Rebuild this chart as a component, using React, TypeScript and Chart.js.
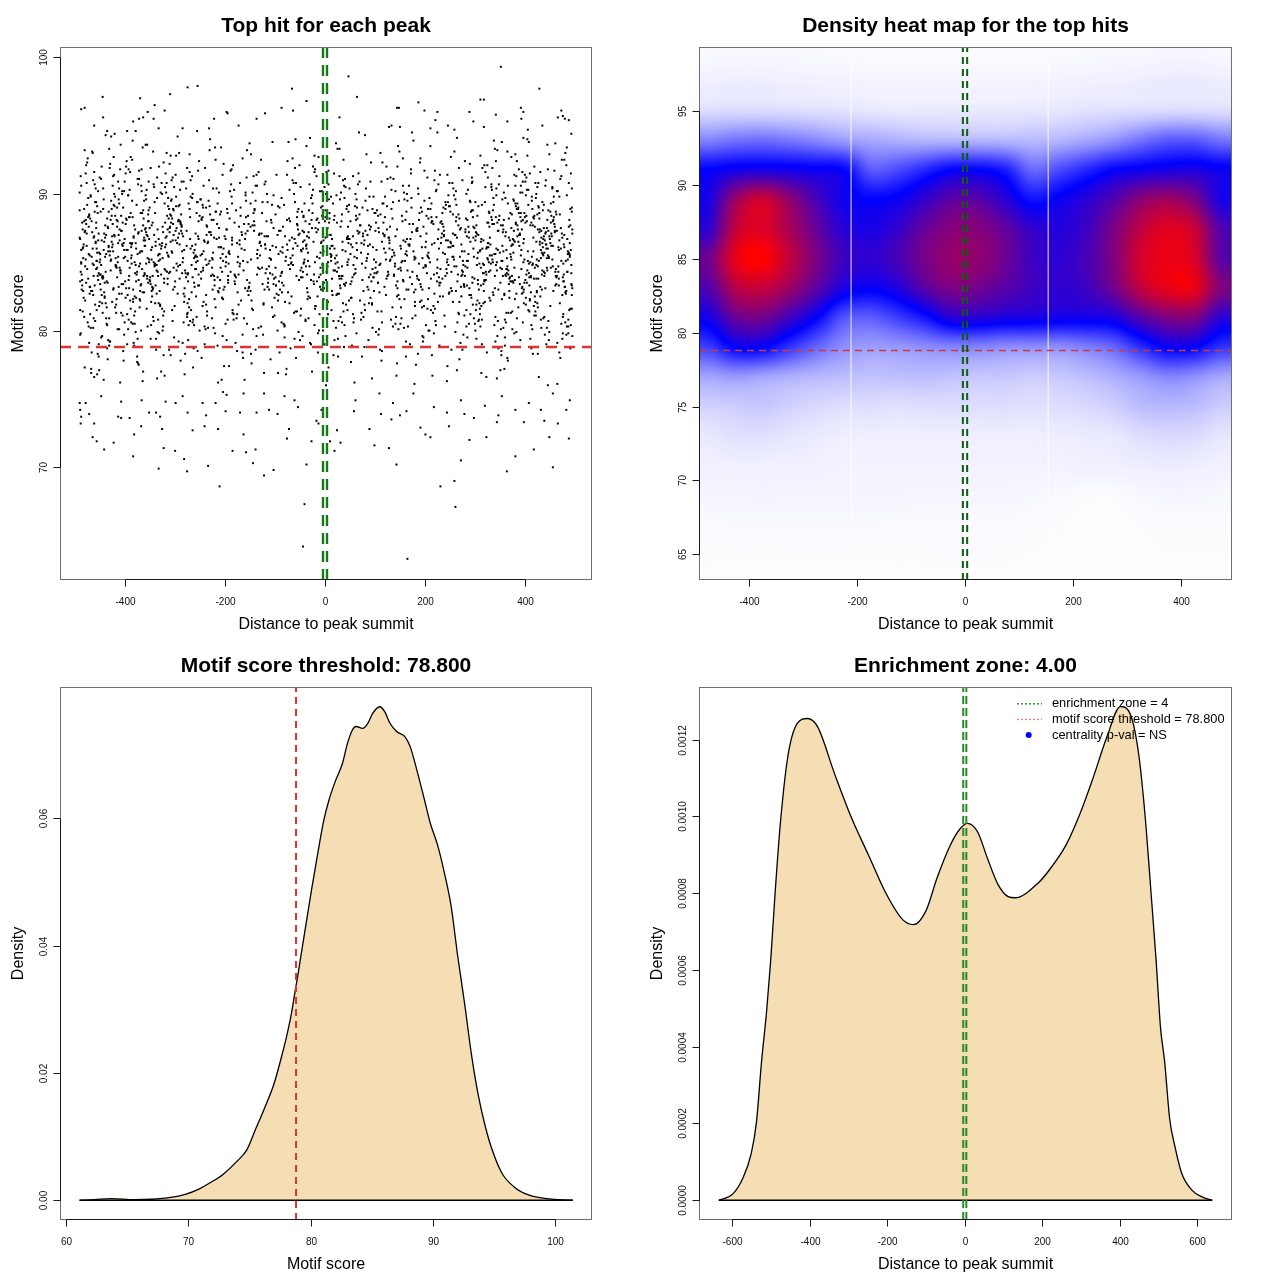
import React, { useEffect, useRef } from "react";
import { Chart, registerables } from "chart.js";

Chart.register(...registerables);

const FONT = '"Liberation Sans", Arial, Helvetica, sans-serif';

// ---------------- shared values ----------------
const scoreThreshold = 78.8;
const enrichmentZone = 4;

// ---------------- panel 1: top hit for each peak ----------------
// isolated hits in the upper and lower tails (distance, score)
const tailDistance = [
  352, 47, -275, -255, -66, 429, -445, -310, -370, 64, 311, 318, -37, 187, -481, -488, -341, 144, 148,
  -87, -64, 199, 392, 397, 473, -321, -197, -195, -355, -120, 225, 289, 342, 466, 476, 480, -444, -384,
  -372, -364, -343, -222, -137, 29, 393, -436, 128, 174, 221, 246, 297, 318, 365, 435, 488, -462, -379,
  -333, -285, -232, -173, 133, 150, 259,
  -491, -490, -488, -489, -472, -462, -465, -457, -442, -423, -414, -408, -391, -384, -382, -368, -352,
  -338, -333, -330, -326, -323, -300, -299, -282, -276, -275, -265, -241, -238, -234, -219, -214, -211,
  -199, -197, -185, -170, -163, -158, -144, -139, -137, -122, -112, -103, -95, -76, -72, -61, -41, -44,
  -37, -17, -7, 10, 19, 24, 31, 58, 89, 99, 112, 128, 133, 143, 150, 163, 165, 191, 201, 211, 231, 244,
  248, 259, 261, 272, 279, 289, 298, 323, 344, 347, 364, 381, 398, 418, 439, 449, 456, 466, 488, 490,
  483, 432, 381, 320, 272, 218, 177, 136, 109, 61, -13, -27, -54, -81, -122, -163, -204, -245, -285,
  -319, -367, -408, -448, -479, 354, 408, 456,
];
const tailScore = [
  99.3, 98.6, 97.8, 97.9, 97.7, 97.7, 97.1, 97.3, 97.0, 97.1, 96.9, 96.9, 96.8, 96.7, 96.3, 96.2, 96.5, 96.3, 96.3,
  96.3, 96.1, 96.1, 96.3, 96.0, 96.1, 96.1, 96.0, 95.9, 96.0, 95.9, 96.0, 96.0, 95.8, 95.6, 95.7, 95.5, 95.6, 95.3,
  95.5, 95.6, 95.5, 95.5, 95.5, 95.6, 95.5, 94.6, 94.9, 94.5, 95.4, 95.0, 95.3, 94.9, 95.3, 95.0, 95.4, 95.0, 94.6,
  94.8, 94.8, 94.8, 95.0, 95.0, 94.9, 94.7,
  74.7, 74.2, 73.7, 73.2, 73.9, 73.2, 72.2, 71.9, 71.3, 71.8, 73.7, 73.6, 73.6, 70.8, 72.4, 73.0, 74.0,
  74.0, 69.9, 73.7, 72.8, 71.4, 71.2, 74.7, 70.6, 69.7, 74.0, 72.7, 73.0, 73.8, 70.1, 74.7, 72.8, 68.6,
  74.1, 75.3, 71.2, 74.0, 72.4, 71.1, 70.3, 71.3, 74.0, 69.4, 74.2, 69.8, 73.9, 72.1, 72.8, 74.9, 67.3, 64.2,
  70.2, 73.4, 74.2, 71.9, 71.2, 72.7, 71.8, 74.1, 72.8, 71.6, 73.9, 71.4, 73.5, 70.2, 73.8, 74.1, 63.3, 72.9, 72.4, 72.2, 68.6, 74.0,
  73.0, 69.0, 67.1, 70.5, 73.9, 72.0, 73.6, 72.2, 73.3, 73.8, 69.7, 70.8, 73.3, 71.3, 73.4, 72.2, 70.0, 73.2, 72.1, 74.9,
  74.2, 74.2, 74.2, 74.5, 74.9, 74.4, 75.4, 74.7, 75.4, 74.9, 73.2, 71.9, 74.4, 75.2, 75.4, 75.4, 75.5, 74.7, 75.2,
  74.8, 74.9, 74.8, 75.2, 74.7, 75.2, 74.7, 75.4,
];
// the dense core of hits, first set
const coreDistance = [
  -489, -472, -455, -483, -461, -477, -490, -466, -452, -486, -470, -458, -481, -463, -475, -488, -451, -468, -479, -457, -485, -460, -473, -491, -454, -467, -482, -459, -476, -487, -464, -453, -480, -469, -456, -484, -462, -478, -490, -465, -471, -474, -488,
  -448, -431, -417, -440, -405, -426, -444, -412, -435, -402, -421, -446, -409, -429, -438, -415, -403, -443, -424, -411, -436, -419, -447, -407, -432, -414, -441, -401, -427, -420, -445, -410, -433, -404, -423, -439, -416, -428, -406, -442, -413, -434, -418, -449, -408, -425, -437, -422, -430, -412,
  -398, -376, -361, -389, -352, -371, -394, -357, -383, -366, -351, -392, -374, -359, -387, -368, -395, -354, -379, -363, -390, -372, -356, -385, -399, -365, -381, -353, -377, -393, -360, -386, -369, -358, -396, -375, -362, -384, -355, -391, -370, -380, -364, -397, -373, -388, -367, -350, -382, -378,
  -348, -327, -312, -339, -303, -321, -344, -308, -333, -317, -301, -342, -324, -310, -336, -319, -346, -305, -330, -314, -341, -322, -307, -335, -349, -316, -331, -304, -328, -343, -311, -337, -320, -309, -345, -326, -313, -334, -306, -340, -318, -332, -302, -347, -325, -315,
  -298, -276, -261, -289, -253, -271, -294, -257, -283, -266, -251, -292, -274, -259, -287, -268, -296, -255, -279, -263, -290, -272, -256, -285, -299, -265, -281, -254, -277, -293, -260, -286, -269, -258, -297, -275, -262, -284, -252, -291, -270,
  -247, -226, -212, -238, -203, -221, -244, -207, -233, -216, -201, -241, -224, -209, -236, -218, -246, -205, -229, -213, -240, -222, -206, -234, -249, -215, -231, -204, -227, -243, -210, -237, -219, -208, -245, -225,
  -197, -176, -161, -188, -153, -171, -194, -157, -183, -166, -151, -192, -174, -159, -186, -168, -196, -155, -179, -163, -190, -172, -156, -185, -199, -165, -181, -154, -177, -193, -160, -186,
  -148, -127, -112, -139, -103, -121, -144, -108, -133, -117, -101, -142, -124, -110, -136, -119, -146, -105, -130, -114, -141, -122, -107, -135, -149, -116, -131, -104, -128, -143,
  -98, -76, -61, -89, -53, -71, -94, -57, -83, -66, -51, -92, -74, -59, -87, -68, -96, -55, -79, -63, -90, -72, -56, -85, -99, -65, -81, -54, -77, -93, -60, -86,
  -48, -27, -12, -39, -3, -21, -44, -8, -33, -17, -1, -42, -24, -10, -36, -19, -46, -5, -30, -14, -41, -22, -7, -35, -49, -16, -31, -4, -28, -43, -11, -37, -20, -9, -45, -26, -2, -34,
  2, 23, 38, 11, 47, 29, 6, 43, 17, 34, 49, 8, 26, 41, 14, 32, 4, 45, 21, 37, 10, 28, 44, 15, 1, 35, 19, 46, 23, 7, 40, 13, 31, 48, 5, 25, 39, 12, 33,
  52, 73, 88, 61, 97, 79, 56, 93, 67, 84, 99, 58, 76, 91, 64, 82, 54, 95, 71, 87, 60, 78, 94, 65, 51, 85, 69, 96, 73, 57, 90, 63, 81, 98,
  102, 123, 138, 111, 147, 129, 106, 143, 117, 134, 149, 108, 126, 141, 114, 132, 104, 145, 121, 137, 110, 128, 144, 115, 101, 135, 119, 146, 123, 107, 140, 113,
  152, 173, 188, 161, 197, 179, 156, 193, 167, 184, 199, 158, 176, 191, 164, 182, 154, 195, 171, 187, 160, 178, 194, 165, 151, 185, 169, 196, 173, 157, 190, 163, 181,
  202, 223, 238, 211, 247, 229, 206, 243, 217, 234, 249, 208, 226, 241, 214, 232, 204, 245, 221, 237, 210, 228, 244, 215, 201, 235, 219, 246, 223, 207, 240, 213, 231, 248, 205, 225,
  252, 273, 288, 261, 297, 279, 256, 293, 267, 284, 299, 258, 276, 291, 264, 282, 254, 295, 271, 287, 260, 278, 294, 265, 251, 285, 269, 296, 273, 257, 290, 263, 281, 298, 255, 275, 289, 262, 283,
  302, 323, 338, 311, 347, 329, 306, 343, 317, 334, 349, 308, 326, 341, 314, 332, 304, 345, 321, 337, 310, 328, 344, 315, 301, 335, 319, 346, 323, 307, 340, 313, 331, 348, 305, 325, 339, 312, 333, 303, 327, 342, 318, 336,
  352, 373, 388, 361, 397, 379, 356, 393, 367, 384, 399, 358, 376, 391, 364, 382, 354, 395, 371, 387, 360, 378, 394, 365, 351, 385, 369, 396, 373, 357, 390, 363, 381, 398, 355, 375, 389, 362, 383, 353, 377, 392, 368, 386, 359, 374, 397, 366, 380,
  402, 423, 438, 411, 447, 429, 406, 443, 417, 434, 449, 408, 426, 441, 414, 432, 404, 445, 421, 437, 410, 428, 444, 415, 401, 435, 419, 446, 423, 407, 440, 413, 431, 448, 405, 425, 439, 412, 433, 403, 427, 442, 418, 436, 409, 424, 446, 416, 430, 420, 438,
  452, 473, 488, 461, 494, 479, 456, 491, 467, 484, 495, 458, 476, 490, 464, 482, 454, 493, 471, 487, 460, 478, 492, 465, 451, 485, 469, 494, 473, 457, 489, 463, 481, 495, 455, 475, 486, 462, 483, 453, 477, 491, 468,
];
const coreScore = [
  84.3, 79.1, 88.6, 82.4, 90.7, 86.2, 81.5, 93.1, 85.7, 87.9, 83.2, 89.4, 77.3, 86.8, 80.6, 84.9, 91.2, 82.9, 88.1, 85.1,
  87.4, 81.9, 85.6, 90.1, 83.7, 78.4, 88.9, 86.5, 92.3, 84.1, 80.2, 87.1, 82.2, 89.8, 76.8, 85.3, 91.6, 83.5, 79.7, 86.0,
  82.7, 88.3, 85.0, 79.5, 91.9, 84.6, 87.7, 81.1, 86.9, 83.9, 90.4, 77.9, 85.9, 89.1, 82.0, 93.6, 84.4, 80.9, 88.0, 86.4,
  89.6, 83.0, 86.6, 80.4, 84.8, 92.0, 87.3, 78.9, 85.4, 82.5, 90.9, 88.4, 81.7, 84.0, 76.2, 86.1, 83.4, 89.2, 94.3, 87.6,
  85.2, 90.2, 82.8, 87.0, 79.3, 84.7, 88.7, 81.3, 86.3, 83.6, 91.4, 85.8, 80.1, 88.2, 78.1, 84.2, 92.7, 86.7, 82.3, 89.9,
  81.6, 86.8, 84.5, 89.0, 83.1, 77.6, 87.5, 85.5, 90.6, 82.6, 88.5, 79.9, 84.0, 86.4, 91.1, 83.8, 80.5, 87.8, 93.4, 85.0,
  88.8, 84.1, 80.8, 86.2, 92.5, 83.3, 87.2, 79.0, 85.6, 89.5, 82.1, 86.9, 90.3, 84.9, 81.4, 77.0, 88.1, 83.7, 85.3, 91.8,
  83.9, 87.7, 82.4, 85.9, 90.8, 78.6, 86.5, 84.6, 89.3, 81.0, 88.4, 85.1, 93.0, 83.2, 87.0, 80.3, 84.3, 76.5, 91.5, 86.1,
  86.6, 81.8, 89.7, 84.8, 83.5, 91.0, 87.4, 79.4, 85.7, 82.9, 88.9, 86.0, 80.7, 92.2, 84.4, 87.9, 78.2, 83.0, 90.0, 85.4,
  84.0, 88.2, 82.0, 86.3, 79.8, 90.5, 85.2, 87.6, 83.4, 89.1, 81.2, 85.9, 77.8, 86.7, 92.9, 84.7, 88.6, 82.7, 91.3, 80.0,
  87.1, 83.6, 85.5, 90.9, 81.5, 86.4, 89.4, 84.2, 78.7, 88.0, 82.3, 94.6, 85.0, 87.3, 80.6, 83.1, 91.7, 86.2, 79.2, 84.5,
  85.8, 89.8, 82.5, 87.5, 84.1, 80.4, 86.9, 92.4, 83.8, 88.3, 78.0, 85.3, 90.1, 81.9, 86.0, 83.3, 89.0, 76.4, 84.9, 87.8,
  83.2, 86.5, 90.4, 84.6, 81.1, 88.7, 85.6, 79.6, 87.2, 82.8, 91.9, 86.8, 84.3, 80.2, 89.6, 83.9, 93.2, 85.1, 88.1, 82.1,
  88.5, 84.8, 81.7, 86.1, 89.2, 83.0, 87.4, 78.5, 85.9, 90.7, 82.6, 86.6, 84.0, 91.2, 80.8, 87.0, 83.5, 77.4, 85.4, 89.9,
  86.3, 82.2, 88.9, 85.0, 79.1, 84.4, 90.2, 87.6, 83.7, 81.3, 86.7, 92.6, 84.1, 88.4, 80.9, 85.7, 83.1, 89.3, 78.3, 87.1,
  84.7, 89.5, 83.4, 86.9, 80.1, 85.2, 91.6, 88.0, 82.4, 87.3, 79.7, 84.2, 90.6, 86.0, 81.6, 93.8, 85.5, 83.8, 88.8, 76.9,
  87.9, 85.3, 82.9, 90.0, 84.5, 81.0, 86.2, 88.6, 83.3, 91.4, 79.4, 85.8, 87.0, 82.0, 89.1, 84.0, 80.5, 86.8, 92.1, 83.6,
  82.8, 86.4, 89.7, 84.9, 78.8, 87.7, 85.1, 90.8, 83.0, 88.2, 81.4, 86.1, 84.6, 91.0, 80.3, 87.4, 77.2, 85.6, 89.4, 83.5,
  85.9, 88.1, 83.9, 80.7, 86.6, 92.8, 84.3, 89.0, 82.5, 87.2, 79.0, 85.0, 90.3, 83.2, 86.9, 81.8, 88.7, 84.8, 94.1, 78.4,
  89.3, 84.1, 86.5, 82.3, 90.5, 85.4, 87.8, 80.0, 83.7, 88.4, 81.2, 86.3, 91.8, 84.6, 79.6, 87.5, 83.1, 85.7, 76.0, 89.9,
  83.4, 87.0, 85.2, 91.3, 82.1, 88.9, 84.4, 80.6, 86.7, 89.6, 78.1, 85.8, 83.8, 90.1, 87.3, 81.5, 84.9, 92.5, 86.0, 82.7,
  86.8, 82.6, 88.3, 84.0, 79.3, 87.6, 85.5, 90.7, 83.3, 86.2, 81.0, 89.2, 84.7, 93.3, 80.4, 85.1, 88.0, 77.7, 86.4, 83.9,
  84.2, 89.8, 81.9, 86.9, 83.6, 91.5, 85.3, 88.6, 80.9, 87.1, 82.4, 85.9, 90.4, 78.9, 84.5, 87.7, 83.0, 89.1, 86.3, 82.0,
  88.2, 85.6, 83.2, 90.9, 86.1, 81.3, 84.8, 87.4, 79.8, 89.5, 82.9, 85.0, 92.0, 84.1, 88.5, 80.1, 86.6, 83.5, 76.7, 87.9,
  85.4, 82.3, 87.2, 84.3, 90.2, 86.5, 80.8, 88.8, 83.1, 85.7, 91.1, 78.6, 86.8, 82.5, 89.3, 84.6, 81.7, 87.0, 93.5, 83.8,
  87.5, 84.9, 81.4, 86.0, 89.7, 83.7, 88.1, 79.5, 85.2, 90.6, 82.2, 86.3, 84.0, 91.7, 80.2, 87.8, 83.4, 85.5, 77.5, 88.4,
  83.0, 86.7, 90.0, 85.1, 82.8, 88.7, 84.4, 80.5, 87.3, 86.2, 79.2, 89.0, 83.6, 92.3, 85.8, 81.1, 84.7, 88.3, 86.9, 94.8,
  86.1, 83.3, 88.9, 84.5, 81.8, 87.1, 90.8, 85.3, 82.1, 89.4, 78.2, 86.4, 84.2, 91.4, 80.7, 87.6, 85.0, 83.9, 76.3, 88.0,
  84.8, 88.6, 82.7, 86.6, 90.3, 85.7, 80.3, 87.9, 83.5, 89.1, 81.6, 85.2, 92.7, 84.0, 87.2, 79.9, 86.0, 83.2, 88.5, 82.4,
  87.7, 85.1, 83.8, 89.9, 84.3, 81.2, 86.8, 88.2, 82.9, 90.9, 79.1, 85.6, 87.0, 83.4, 91.2, 80.6, 86.5, 84.6, 77.9, 88.8,
  82.5, 86.2, 89.5, 84.7, 87.4, 80.9, 85.4, 91.0, 83.1, 88.0, 81.5, 86.9, 84.1, 93.9, 85.9, 78.7, 87.6, 83.7, 90.4, 82.0,
  85.5, 88.4, 83.0, 86.4, 81.0, 89.2, 84.9, 87.1, 79.6, 90.5, 82.6, 85.8, 88.7, 84.4, 86.0, 80.0, 91.9, 83.6, 87.3, 76.6,
  89.1, 84.0, 86.7, 82.2, 90.7, 85.3, 87.9, 80.4, 83.3, 88.3, 81.9, 86.1, 92.4, 84.8, 85.0, 78.8, 87.5, 83.9, 89.7, 82.8,
  84.6, 87.2, 85.9, 81.3, 88.9, 83.5, 90.1, 86.3, 79.3, 84.2, 87.8, 82.3, 91.6, 85.6, 89.0, 80.8, 86.6, 83.1, 93.1, 77.1,
  86.9, 83.8, 88.1, 85.2, 80.2, 87.0, 84.5, 90.6, 82.0, 89.6, 81.4, 86.2, 84.0, 91.3, 78.5, 85.7, 88.6, 83.4, 87.4, 82.6,
  83.6, 85.0, 89.3, 86.5, 82.4, 90.0, 84.3, 87.7, 80.7, 88.2, 85.8, 79.0, 86.8, 83.0, 92.9, 84.9, 81.7, 87.1, 89.8, 85.3,
  88.0, 84.4, 82.1, 86.7, 91.5, 85.1, 87.5, 80.1, 83.7, 89.4, 81.1, 86.0, 84.8, 90.3, 79.7, 87.9, 83.2, 85.4, 94.0, 88.5,
  85.7, 82.8, 87.3, 84.1, 90.8, 86.3, 81.8, 88.8, 83.9, 85.2, 91.8, 78.3, 86.5, 82.5, 89.2, 84.6, 80.5, 87.6, 93.7, 83.3,
  87.0, 84.7, 81.6, 86.1, 89.9, 83.1, 88.3, 79.8, 85.5, 90.2, 82.7, 86.9, 84.2, 91.1, 80.3, 87.2, 83.6, 85.9, 76.1, 88.7,
  84.3, 86.6, 89.0, 85.1, 82.9, 88.1, 83.4, 80.6, 87.4, 90.5, 79.4, 85.8, 84.0, 92.1, 86.2, 81.2, 88.9, 83.8, 87.8, 82.2,
];
// the dense core of hits, second set
const coreDistanceB = [
  -488, -451, -472, -460, -483, -464, -453, -478, -455, -490, -469, -457, -475, -485, -462, -480, -452, -467, -487, -459, -474, -466, -482, -456, -471, -489, -463, -477, -454, -484, -461, -468, -450, -479, -486, -458, -473, -465, -481, -457, -470, -476, -491,
  -447, -406, -431, -419, -442, -423, -410, -437, -414, -449, -428, -403, -434, -417, -444, -421, -408, -439, -426, -412, -448, -432, -405, -441, -415, -425, -436, -401, -420, -445, -409, -430, -438, -413, -422, -443, -404, -433, -416, -424, -440, -407, -429, -446, -411, -435, -418, -402, -427, -450,
  -397, -356, -381, -369, -392, -373, -360, -387, -364, -399, -378, -353, -384, -367, -394, -371, -358, -389, -376, -362, -398, -382, -355, -391, -365, -375, -386, -351, -370, -395, -359, -380, -388, -363, -372, -393, -354, -383, -366, -374, -390, -357, -379, -396, -361, -385, -368, -352, -377, -400,
  -347, -306, -331, -319, -342, -323, -310, -337, -314, -349, -328, -303, -334, -317, -344, -321, -308, -339, -326, -312, -348, -332, -305, -341, -315, -325, -336, -301, -320, -345, -309, -330, -338, -313, -322, -343, -304, -333, -316, -324, -340, -307, -329, -346, -311, -335,
  -297, -256, -281, -269, -292, -273, -260, -287, -264, -299, -278, -253, -284, -267, -294, -271, -258, -289, -276, -262, -298, -282, -255, -291, -265, -275, -286, -251, -270, -295, -259, -280, -288, -263, -272, -293, -254, -283, -266, -274, -290,
  -247, -206, -231, -219, -242, -223, -210, -237, -214, -249, -228, -203, -234, -217, -244, -221, -208, -239, -226, -212, -248, -232, -205, -241, -215, -225, -236, -201, -220, -245, -209, -230, -238, -213, -222, -243,
  -197, -156, -181, -169, -192, -173, -160, -187, -164, -199, -178, -153, -184, -167, -194, -171, -158, -189, -176, -162, -198, -182, -155, -191, -165, -175, -186, -151, -170, -195, -159, -180,
  -147, -106, -131, -119, -142, -123, -110, -137, -114, -149, -128, -103, -134, -117, -144, -121, -108, -139, -126, -112, -148, -132, -105, -141, -115, -125, -136, -101, -120, -145,
  -97, -56, -81, -69, -92, -73, -60, -87, -64, -99, -78, -53, -84, -67, -94, -71, -58, -89, -76, -62, -98, -82, -55, -91, -65, -75, -86, -51, -70, -95, -59, -80,
  -47, -6, -31, -19, -42, -23, -10, -37, -14, -49, -28, -3, -34, -17, -44, -21, -8, -39, -26, -12, -48, -32, -5, -41, -15, -25, -36, -1, -20, -45, -9, -30, -38, -13, -22, -43, -4, -33,
  3, 44, 19, 31, 8, 27, 40, 13, 36, 1, 22, 47, 16, 33, 6, 29, 42, 11, 24, 38, 2, 18, 45, 9, 35, 25, 14, 49, 30, 5, 41, 20, 12, 37, 28, 7, 46, 17, 34,
  53, 94, 69, 81, 58, 77, 90, 63, 86, 51, 72, 97, 66, 83, 56, 79, 92, 61, 74, 88, 52, 68, 95, 59, 85, 75, 64, 99, 80, 55, 91, 70, 62, 87,
  103, 144, 119, 131, 108, 127, 140, 113, 136, 101, 122, 147, 116, 133, 106, 129, 142, 111, 124, 138, 102, 118, 145, 109, 135, 125, 114, 149, 130, 105, 141, 120,
  153, 194, 169, 181, 158, 177, 190, 163, 186, 151, 172, 197, 166, 183, 156, 179, 192, 161, 174, 188, 152, 168, 195, 159, 185, 175, 164, 199, 180, 155, 191, 170, 162,
  203, 244, 219, 231, 208, 227, 240, 213, 236, 201, 222, 247, 216, 233, 206, 229, 242, 211, 224, 238, 202, 218, 245, 209, 235, 225, 214, 249, 230, 205, 241, 220, 212, 237, 228, 207,
  253, 294, 269, 281, 258, 277, 290, 263, 286, 251, 272, 297, 266, 283, 256, 279, 292, 261, 274, 288, 252, 268, 295, 259, 285, 275, 264, 299, 280, 255, 291, 270, 262, 287, 278, 257, 296, 267, 284,
  303, 344, 319, 331, 308, 327, 340, 313, 336, 301, 322, 347, 316, 333, 306, 329, 342, 311, 324, 338, 302, 318, 345, 309, 335, 325, 314, 349, 330, 305, 341, 320, 312, 337, 328, 307, 346, 317, 334, 326, 310, 343, 321, 304,
  353, 394, 369, 381, 358, 377, 390, 363, 386, 351, 372, 397, 366, 383, 356, 379, 392, 361, 374, 388, 352, 368, 395, 359, 385, 375, 364, 399, 380, 355, 391, 370, 362, 387, 378, 357, 396, 367, 384, 376, 360, 393, 371, 354, 389, 365, 382, 398, 373,
  403, 444, 419, 431, 408, 427, 440, 413, 436, 401, 422, 447, 416, 433, 406, 429, 442, 411, 424, 438, 402, 418, 445, 409, 435, 425, 414, 449, 430, 405, 441, 420, 412, 437, 428, 407, 446, 417, 434, 426, 410, 443, 421, 404, 439, 415, 432, 448, 423, 400, 444,
  453, 494, 469, 481, 458, 477, 490, 463, 486, 451, 472, 493, 466, 483, 456, 479, 492, 461, 474, 488, 452, 468, 495, 459, 485, 475, 464, 491, 480, 455, 489, 470, 462, 487, 478, 457, 494, 467, 484, 476, 460, 482, 471,
];
const coreScoreB = [
  85.9, 82.1, 88.4, 80.7, 86.3, 91.0, 84.2, 87.8, 78.3, 83.6, 89.9, 85.1, 92.6, 81.4, 86.9, 84.7, 77.1, 88.0, 83.0, 90.4,
  83.8, 87.2, 81.0, 89.1, 85.5, 79.8, 84.0, 90.8, 86.6, 82.9, 88.7, 76.9, 85.2, 91.5, 83.3, 87.5, 80.3, 84.9, 93.2, 86.0,
  88.2, 84.5, 86.8, 82.6, 90.0, 79.2, 85.3, 87.1, 83.1, 91.8, 81.7, 86.4, 84.1, 89.5, 77.8, 85.8, 82.3, 88.9, 94.4, 87.3,
  82.0, 86.1, 89.3, 84.8, 80.9, 87.9, 83.5, 85.0, 90.6, 78.7, 86.7, 88.4, 81.3, 84.4, 92.2, 85.6, 83.2, 87.0, 76.4, 89.0,
  86.2, 83.9, 91.3, 85.4, 82.7, 88.1, 79.6, 84.6, 87.6, 81.9, 90.2, 86.5, 83.4, 85.9, 93.6, 80.5, 88.6, 84.0, 77.5, 87.4,
  84.9, 88.8, 82.4, 86.0, 90.9, 83.0, 87.3, 80.1, 85.7, 89.6, 81.6, 84.3, 86.8, 92.0, 78.9, 85.3, 88.3, 82.8, 91.1, 86.4,
  87.5, 82.9, 85.1, 89.9, 84.2, 80.6, 86.6, 91.7, 83.7, 88.0, 79.1, 85.8, 87.1, 82.2, 90.3, 84.8, 81.2, 86.2, 93.9, 83.4,
  85.0, 89.2, 83.6, 87.7, 81.5, 86.3, 84.4, 90.5, 78.2, 88.5, 82.7, 85.5, 91.9, 84.1, 87.0, 80.8, 86.9, 83.1, 76.7, 89.5,
  83.3, 86.4, 88.9, 82.1, 85.6, 91.2, 84.7, 87.4, 80.0, 89.7, 81.8, 86.1, 84.0, 92.8, 85.2, 79.4, 88.2, 83.8, 90.7, 87.8,
  86.7, 84.3, 81.1, 88.6, 85.8, 90.1, 83.2, 87.2, 79.9, 84.9, 89.4, 82.5, 86.0, 93.0, 80.4, 85.4, 87.6, 77.3, 91.4, 83.9,
  88.0, 85.3, 82.8, 86.8, 91.6, 84.5, 87.9, 81.0, 83.5, 89.8, 85.9, 78.5, 86.3, 90.0, 82.0, 84.2, 88.4, 80.7, 94.2, 87.1,
  84.4, 87.3, 85.7, 81.7, 89.1, 83.3, 90.9, 86.2, 79.3, 84.8, 88.1, 82.4, 85.1, 92.5, 86.6, 80.2, 83.7, 87.7, 76.2, 89.6,
  87.0, 83.0, 86.5, 90.4, 84.6, 82.3, 88.7, 85.2, 80.9, 87.5, 83.8, 91.0, 85.6, 79.0, 89.3, 84.1, 81.4, 86.9, 93.4, 88.3,
  85.3, 88.5, 82.6, 86.1, 84.0, 90.6, 87.4, 80.5, 83.6, 89.0, 85.8, 81.9, 86.7, 91.8, 78.0, 84.7, 88.8, 83.1, 92.1, 87.2,
  83.7, 86.3, 89.5, 84.3, 81.2, 87.8, 85.4, 90.3, 82.9, 88.2, 79.7, 85.0, 86.8, 93.7, 84.9, 80.8, 87.1, 83.4, 77.6, 89.2,
  86.4, 84.2, 88.0, 82.0, 85.9, 91.4, 83.5, 87.6, 80.3, 89.9, 84.6, 86.9, 81.5, 90.7, 85.2, 78.6, 88.6, 83.0, 92.9, 87.0,
  84.1, 87.7, 83.2, 89.4, 85.6, 81.1, 86.3, 90.1, 82.7, 88.3, 79.5, 85.3, 87.3, 84.8, 91.9, 80.6, 86.0, 83.9, 76.8, 88.9,
  87.6, 85.0, 82.2, 86.6, 90.8, 84.0, 88.1, 81.3, 83.3, 89.2, 86.2, 78.4, 85.5, 92.4, 82.8, 87.1, 84.5, 80.0, 94.0, 86.9,
  85.8, 88.4, 84.7, 81.8, 87.2, 83.6, 90.2, 86.0, 79.8, 84.4, 89.7, 82.3, 85.1, 91.3, 86.5, 80.4, 83.0, 88.0, 77.0, 87.9,
  83.9, 86.8, 89.1, 85.2, 82.5, 88.6, 84.1, 90.5, 81.6, 87.3, 85.7, 79.1, 86.2, 92.7, 83.4, 84.9, 88.3, 80.9, 91.6, 86.7,
  86.0, 83.1, 87.9, 84.6, 91.1, 85.5, 82.0, 88.8, 80.2, 86.4, 89.3, 83.8, 85.0, 93.3, 81.9, 87.0, 84.3, 78.8, 90.0, 88.1,
  84.8, 88.2, 85.9, 82.7, 86.7, 90.4, 83.3, 87.5, 79.6, 85.3, 89.8, 81.4, 84.0, 91.7, 86.9, 80.7, 88.5, 83.6, 76.5, 87.2,
  87.3, 84.1, 82.9, 86.3, 89.6, 85.6, 88.0, 80.8, 83.9, 90.7, 85.1, 81.2, 86.6, 92.3, 84.5, 78.1, 87.7, 82.4, 94.5, 88.9,
  85.4, 87.0, 83.7, 89.0, 84.2, 81.5, 86.1, 90.9, 82.2, 88.4, 79.3, 85.9, 87.4, 83.2, 91.2, 80.1, 86.8, 84.7, 77.8, 89.4,
  88.6, 85.2, 82.6, 87.1, 90.3, 83.5, 86.4, 81.0, 84.9, 89.1, 85.7, 79.9, 86.0, 92.0, 82.8, 88.2, 84.0, 80.6, 93.1, 87.6,
  84.3, 86.9, 89.8, 85.0, 81.7, 87.8, 83.0, 90.1, 85.8, 82.1, 88.7, 78.3, 86.2, 91.5, 84.6, 80.3, 87.3, 83.7, 76.1, 89.0,
  86.5, 83.4, 88.1, 84.4, 90.6, 85.3, 82.3, 87.5, 80.9, 86.7, 89.5, 81.8, 85.1, 92.6, 83.9, 79.2, 88.4, 84.2, 91.0, 87.9,
  83.1, 87.4, 85.6, 89.3, 82.5, 86.1, 90.2, 84.8, 81.3, 88.0, 85.4, 78.9, 86.6, 93.5, 83.6, 87.0, 80.4, 84.1, 77.4, 89.7,
  87.8, 84.6, 86.3, 82.8, 91.4, 85.5, 88.9, 81.6, 83.8, 89.0, 86.0, 80.0, 84.3, 90.8, 82.1, 87.2, 85.2, 79.7, 92.2, 88.3,
  85.1, 88.7, 83.2, 86.8, 84.1, 90.0, 87.1, 81.1, 82.6, 89.6, 85.8, 80.5, 86.4, 91.9, 83.5, 84.7, 88.1, 78.6, 94.1, 87.5,
  84.0, 86.2, 89.4, 85.4, 82.9, 87.6, 83.3, 90.4, 81.9, 88.5, 86.9, 79.4, 85.0, 92.1, 84.4, 80.8, 87.9, 83.1, 76.9, 88.8,
  86.6, 83.7, 87.3, 84.9, 90.7, 85.7, 82.4, 88.3, 80.3, 86.1, 89.2, 81.5, 84.2, 93.2, 82.0, 87.8, 85.3, 79.0, 91.3, 86.8,
  88.4, 85.6, 82.1, 86.5, 89.7, 84.3, 87.0, 80.7, 83.4, 90.3, 85.2, 81.2, 86.0, 91.6, 84.8, 78.2, 87.4, 82.9, 92.9, 88.1,
  83.5, 87.1, 85.9, 88.9, 84.6, 81.3, 86.4, 90.6, 82.7, 87.7, 79.8, 85.5, 86.9, 84.0, 91.8, 80.1, 88.2, 83.2, 77.2, 89.3,
  86.3, 84.5, 88.6, 82.3, 85.1, 90.1, 83.9, 87.2, 81.7, 89.5, 85.8, 80.6, 84.1, 92.4, 86.7, 79.5, 88.0, 83.6, 93.8, 87.0,
  84.7, 87.9, 83.0, 86.2, 91.2, 85.3, 88.4, 82.5, 84.2, 89.1, 86.6, 78.7, 85.6, 90.9, 81.1, 87.3, 84.9, 80.2, 94.7, 88.6,
  87.2, 85.0, 82.8, 86.9, 89.9, 83.8, 88.1, 81.4, 84.4, 90.5, 85.4, 79.9, 86.3, 92.8, 83.1, 87.6, 84.0, 80.9, 76.6, 89.2,
  85.5, 88.3, 84.1, 87.4, 82.2, 86.0, 90.8, 83.5, 81.0, 88.9, 85.9, 79.3, 86.5, 91.4, 84.6, 87.1, 82.6, 78.4, 93.0, 89.8,
  83.6, 86.4, 88.5, 85.2, 81.8, 87.5, 84.8, 90.2, 82.9, 88.0, 86.1, 80.4, 84.3, 92.5, 85.7, 87.9, 83.3, 79.6, 91.7, 86.7,
  86.8, 84.0, 87.7, 83.2, 90.4, 85.6, 82.0, 88.7, 80.8, 86.3, 89.4, 81.6, 84.7, 93.4, 83.9, 87.3, 85.1, 78.0, 91.0, 88.2,
];
// the dense core of hits, third set
const coreDistanceC = [
  -484, -461, -476, -452, -467, -488, -455, -480, -453, -472, -464, -490, -458, -478, -451, -469, -458, -486, -462, -474, -456, -482, -466, -459, -489, -456, -477, -463, -471, -460, -485, -453, -479, -465, -451, -473, -457, -491, -468, -454, -481, -463, -470,
  -443, -420, -435, -408, -426, -447, -414, -439, -402, -431, -423, -449, -411, -437, -405, -428, -417, -445, -421, -433, -409, -441, -425, -403, -448, -415, -436, -406, -430, -419, -444, -412, -438, -424, -404, -432, -416, -450, -427, -407, -440, -422, -410, -434, -418, -446, -413, -429, -401, -442,
  -393, -370, -385, -358, -376, -397, -364, -389, -352, -381, -373, -399, -361, -387, -355, -378, -367, -395, -371, -383, -359, -391, -375, -353, -398, -365, -386, -356, -380, -369, -394, -362, -388, -374, -354, -382, -366, -400, -377, -357, -390, -372, -360, -384, -368, -396, -363, -379, -351, -392,
  -343, -320, -335, -308, -326, -347, -314, -339, -302, -331, -323, -349, -311, -337, -305, -328, -317, -345, -321, -333, -309, -341, -325, -303, -348, -315, -336, -306, -330, -319, -344, -312, -338, -324, -304, -332, -316, -350, -327, -307, -340, -322, -310, -334, -318, -346,
  -293, -270, -285, -258, -276, -297, -264, -289, -252, -281, -273, -299, -261, -287, -255, -278, -267, -295, -271, -283, -259, -291, -275, -253, -298, -265, -286, -256, -280, -269, -294, -262, -288, -274, -254, -282, -266, -300, -277, -257, -290,
  -243, -220, -235, -208, -226, -247, -214, -239, -202, -231, -223, -249, -211, -237, -205, -228, -217, -245, -221, -233, -209, -241, -225, -203, -248, -215, -236, -206, -230, -219, -244, -212, -238, -224, -204, -232,
  -193, -170, -185, -158, -176, -197, -164, -189, -152, -181, -173, -199, -161, -187, -155, -178, -167, -195, -171, -183, -159, -191, -175, -153, -198, -165, -186, -156, -180, -169, -194, -162,
  -143, -120, -135, -108, -126, -147, -114, -139, -102, -131, -123, -149, -111, -137, -105, -128, -117, -145, -121, -133, -109, -141, -125, -103, -148, -115, -136, -106, -130, -119,
  -93, -70, -85, -58, -76, -97, -64, -89, -52, -81, -73, -99, -61, -87, -55, -78, -67, -95, -71, -83, -59, -91, -75, -53, -98, -65, -86, -56, -80, -69, -94, -62,
  -43, -20, -35, -8, -26, -47, -14, -39, -2, -31, -23, -49, -11, -37, -5, -28, -17, -45, -21, -33, -9, -41, -25, -3, -48, -15, -36, -6, -30, -19, -44, -12, -38, -24, -4, -32, -16, -50,
  7, 30, 15, 42, 24, 3, 36, 11, 48, 19, 27, 1, 39, 13, 45, 22, 33, 5, 29, 17, 41, 9, 25, 47, 2, 35, 14, 44, 20, 31, 6, 38, 12, 26, 46, 18, 34, 0, 23,
  57, 80, 65, 92, 74, 53, 86, 61, 98, 69, 77, 51, 89, 63, 95, 72, 83, 55, 79, 67, 91, 59, 75, 97, 52, 85, 64, 94, 70, 81, 56, 88, 62, 76,
  107, 130, 115, 142, 124, 103, 136, 111, 148, 119, 127, 101, 139, 113, 145, 122, 133, 105, 129, 117, 141, 109, 125, 147, 102, 135, 114, 144, 120, 131, 106, 138,
  157, 180, 165, 192, 174, 153, 186, 161, 198, 169, 177, 151, 189, 163, 195, 172, 183, 155, 179, 167, 191, 159, 175, 197, 152, 185, 164, 194, 170, 181, 156, 188, 162,
  207, 230, 215, 242, 224, 203, 236, 211, 248, 219, 227, 201, 239, 213, 245, 222, 233, 205, 229, 217, 241, 209, 225, 247, 202, 235, 214, 244, 220, 231, 206, 238, 212, 226, 246, 218,
  257, 280, 265, 292, 274, 253, 286, 261, 298, 269, 277, 251, 289, 263, 295, 272, 283, 255, 279, 267, 291, 259, 275, 297, 252, 285, 264, 294, 270, 281, 256, 288, 262, 276, 296, 268, 284, 250, 273,
  307, 330, 315, 342, 324, 303, 336, 311, 348, 319, 327, 301, 339, 313, 345, 322, 333, 305, 329, 317, 341, 309, 325, 347, 302, 335, 314, 344, 320, 331, 306, 338, 312, 326, 346, 318, 334, 300, 323, 343, 310, 328, 340, 316,
  357, 380, 365, 392, 374, 353, 386, 361, 398, 369, 377, 351, 389, 363, 395, 372, 383, 355, 379, 367, 391, 359, 375, 397, 352, 385, 364, 394, 370, 381, 356, 388, 362, 376, 396, 368, 384, 350, 373, 393, 360, 378, 390, 366, 382, 354, 387, 371, 399,
  407, 430, 415, 442, 424, 403, 436, 411, 448, 419, 427, 401, 439, 413, 445, 422, 433, 405, 429, 417, 441, 409, 425, 447, 402, 435, 414, 444, 420, 431, 406, 438, 412, 426, 446, 418, 434, 400, 423, 443, 410, 428, 440, 416, 432, 404, 437, 421, 449, 408, 426,
  457, 480, 465, 492, 474, 453, 486, 461, 495, 469, 477, 451, 489, 463, 494, 472, 483, 455, 479, 467, 491, 459, 475, 493, 452, 485, 464, 490, 470, 481, 456, 488, 462, 476, 494, 468, 484, 450, 473, 493, 460, 478, 487,
];
const coreScoreC = [
  86.1, 83.3, 89.2, 81.8, 85.4, 90.6, 84.0, 87.3, 79.0, 88.5, 82.6, 86.7, 84.5, 92.1, 85.0, 80.2, 87.9, 83.7, 76.6, 89.7,
  84.6, 88.0, 82.9, 86.4, 91.3, 85.7, 87.1, 80.9, 83.2, 89.4, 86.0, 78.1, 85.2, 93.0, 84.1, 87.6, 81.5, 88.8, 77.2, 90.2,
  87.2, 84.8, 81.2, 85.9, 89.8, 83.5, 88.4, 82.1, 86.6, 90.9, 84.3, 79.7, 85.5, 92.7, 83.0, 87.4, 80.5, 86.2, 94.2, 88.1,
  83.8, 86.9, 88.7, 84.2, 82.4, 87.8, 85.3, 91.1, 80.1, 88.2, 86.3, 79.2, 84.7, 90.4, 82.7, 87.0, 85.8, 78.5, 93.3, 89.0,
  85.6, 88.9, 83.4, 86.8, 90.0, 84.4, 87.5, 81.3, 83.9, 89.6, 85.1, 80.6, 86.5, 91.8, 82.2, 88.3, 84.9, 77.7, 92.4, 87.7,
  88.6, 85.2, 82.5, 87.2, 91.5, 84.1, 86.3, 80.3, 83.6, 90.2, 85.9, 81.7, 86.9, 93.6, 84.6, 79.4, 88.0, 83.1, 76.3, 89.5,
  84.0, 87.4, 85.8, 89.9, 82.8, 86.1, 90.7, 83.5, 81.1, 88.6, 85.4, 78.8, 87.0, 91.6, 84.7, 86.6, 82.3, 80.0, 94.6, 88.2,
  86.4, 83.7, 88.3, 85.0, 90.5, 84.3, 87.9, 81.6, 82.9, 89.1, 86.2, 79.5, 85.6, 92.3, 83.4, 87.5, 84.8, 80.7, 77.0, 90.8,
  87.9, 84.5, 82.0, 86.5, 89.4, 85.3, 88.8, 80.4, 83.8, 91.2, 85.7, 81.9, 86.8, 93.1, 84.2, 78.6, 87.2, 83.0, 92.0, 88.4,
  83.6, 86.2, 89.6, 84.9, 81.4, 87.6, 85.5, 90.1, 82.5, 88.1, 86.7, 79.1, 85.0, 91.9, 84.4, 80.8, 87.8, 83.3, 76.8, 89.3,
  86.6, 83.2, 87.7, 85.1, 90.4, 84.8, 82.7, 88.9, 80.6, 86.3, 89.2, 81.3, 84.1, 92.8, 83.9, 87.1, 85.4, 78.3, 91.0, 88.0,
  85.3, 88.5, 84.2, 86.9, 82.1, 89.7, 83.6, 87.3, 81.0, 90.3, 85.8, 79.8, 86.4, 93.4, 84.6, 88.2, 82.9, 80.1, 77.4, 89.1,
  88.1, 85.5, 83.1, 87.0, 91.4, 84.0, 86.7, 81.8, 83.7, 89.5, 86.1, 80.3, 85.2, 92.2, 84.3, 78.9, 87.6, 82.4, 94.0, 88.7,
  84.4, 86.8, 89.0, 85.7, 82.3, 87.2, 84.9, 90.8, 81.5, 88.3, 86.4, 79.3, 85.1, 91.7, 83.2, 87.9, 84.1, 80.5, 76.4, 89.8,
  87.3, 83.9, 86.0, 88.6, 84.7, 81.2, 90.1, 85.6, 82.8, 87.8, 85.0, 78.4, 86.6, 93.2, 84.0, 88.4, 83.5, 80.9, 91.3, 86.3,
  85.9, 88.1, 84.6, 82.2, 86.9, 90.6, 83.8, 87.1, 81.9, 89.3, 85.3, 79.6, 86.2, 92.5, 84.5, 87.7, 83.0, 80.2, 77.9, 88.9,
  83.4, 87.5, 85.2, 89.4, 84.1, 81.7, 86.5, 90.9, 82.6, 88.0, 85.7, 78.0, 86.3, 91.4, 84.8, 87.3, 83.7, 80.4, 93.8, 88.5,
  86.7, 84.2, 88.7, 85.4, 82.5, 87.0, 90.3, 83.3, 81.4, 89.0, 85.9, 79.9, 86.1, 92.6, 84.3, 87.8, 82.1, 78.7, 76.9, 90.0,
  88.3, 85.0, 82.8, 86.4, 89.9, 84.6, 87.4, 80.8, 83.5, 90.7, 86.5, 81.1, 85.3, 93.5, 84.9, 79.0, 88.1, 83.9, 91.6, 87.2,
  84.1, 86.6, 89.3, 85.8, 81.6, 88.2, 83.1, 90.2, 82.4, 87.5, 86.0, 80.0, 84.7, 92.0, 85.5, 88.8, 83.6, 79.3, 77.3, 89.6,
  86.2, 83.5, 87.9, 84.3, 91.0, 85.6, 82.2, 88.4, 80.7, 86.8, 89.7, 81.5, 85.0, 93.7, 84.0, 87.0, 83.8, 78.2, 90.5, 88.6,
  85.0, 88.7, 83.7, 86.5, 82.9, 89.1, 84.4, 87.6, 81.2, 90.6, 85.4, 79.4, 86.7, 91.5, 84.7, 88.0, 82.6, 80.6, 94.3, 87.3,
  87.6, 84.9, 82.4, 86.2, 90.0, 85.2, 88.5, 81.0, 83.4, 89.8, 86.4, 80.2, 85.7, 92.9, 83.9, 78.8, 87.1, 84.1, 76.2, 89.0,
  83.9, 86.3, 88.8, 85.3, 81.9, 87.7, 84.6, 91.3, 82.0, 88.1, 86.9, 79.7, 85.1, 92.3, 83.3, 87.4, 84.2, 80.3, 93.0, 89.5,
  86.9, 84.1, 87.3, 85.5, 90.9, 83.6, 82.6, 88.9, 81.4, 86.0, 89.3, 80.5, 84.8, 91.1, 84.5, 87.9, 85.9, 78.5, 77.6, 88.3,
  85.2, 88.4, 84.0, 86.6, 82.1, 89.5, 83.2, 87.2, 80.9, 90.4, 85.6, 81.8, 86.3, 93.9, 84.6, 88.6, 83.0, 79.6, 91.8, 87.4,
  88.0, 85.4, 83.0, 86.9, 89.6, 84.3, 87.6, 81.7, 83.8, 90.0, 86.1, 79.0, 85.3, 92.6, 84.9, 78.1, 88.2, 82.5, 76.7, 89.2,
  84.2, 87.1, 85.7, 88.9, 82.7, 86.4, 90.7, 84.7, 81.1, 88.3, 85.2, 80.4, 86.8, 91.2, 83.5, 87.8, 84.0, 80.0, 94.5, 89.9,
  86.5, 83.8, 88.0, 85.0, 91.7, 84.5, 82.3, 87.3, 81.5, 86.7, 89.4, 79.8, 85.4, 92.4, 83.6, 88.7, 84.4, 78.6, 90.3, 87.0,
  85.4, 88.2, 84.8, 86.1, 82.6, 89.2, 83.9, 87.5, 80.3, 90.8, 85.8, 81.3, 86.5, 93.1, 84.1, 87.6, 83.1, 79.5, 77.1, 88.8,
  87.4, 84.7, 82.1, 86.8, 90.2, 85.1, 88.3, 81.2, 83.3, 89.1, 86.3, 80.7, 85.5, 91.9, 84.8, 78.4, 87.7, 82.8, 92.8, 88.1,
  83.7, 86.4, 89.4, 85.6, 81.8, 87.9, 84.3, 90.5, 82.2, 88.6, 86.6, 79.2, 84.9, 92.1, 83.0, 87.2, 85.2, 80.8, 76.5, 89.4,
  86.3, 83.4, 87.8, 84.6, 91.2, 85.9, 82.9, 88.1, 80.5, 86.0, 89.9, 81.6, 85.0, 93.3, 84.2, 87.4, 83.7, 78.0, 90.6, 88.5,
  85.1, 88.9, 84.1, 86.7, 82.4, 89.6, 83.5, 87.0, 81.3, 90.1, 85.4, 79.9, 86.2, 91.4, 84.4, 88.3, 82.7, 80.1, 94.1, 87.7,
  87.7, 85.3, 82.7, 86.6, 89.3, 84.0, 88.6, 80.6, 83.6, 90.9, 86.8, 80.9, 85.7, 92.7, 84.5, 78.9, 87.3, 83.4, 77.8, 89.1,
  84.5, 86.5, 88.6, 85.2, 81.5, 87.4, 84.8, 91.0, 82.9, 88.4, 86.1, 79.4, 85.3, 92.0, 83.8, 87.9, 84.0, 80.4, 93.6, 89.7,
  86.8, 84.4, 87.2, 85.8, 90.6, 83.3, 82.0, 88.8, 81.9, 86.4, 89.5, 80.2, 84.6, 91.6, 85.1, 87.5, 83.9, 78.3, 76.0, 88.2,
  85.7, 88.3, 83.8, 86.3, 82.3, 89.0, 84.2, 87.7, 80.8, 90.3, 85.5, 81.4, 86.9, 93.8, 84.7, 88.1, 83.2, 79.1, 91.5, 87.1,
  88.4, 85.6, 83.3, 87.1, 89.8, 84.9, 86.4, 81.5, 83.9, 90.4, 86.0, 79.7, 85.2, 92.5, 84.3, 78.7, 87.8, 82.6, 94.4, 89.3,
  84.3, 87.3, 85.4, 88.5, 82.8, 86.2, 90.8, 84.5, 81.0, 88.7, 85.9, 80.3, 86.7, 91.3, 83.4, 87.6, 84.1, 79.8, 77.5, 89.9,
];

// ---------------- panel 2: density heat map ----------------
const heatDistanceCols = [-475, -425, -375, -325, -275, -225, -175, -125, -75, -25, 25, 75, 125, 175, 225, 275, 325, 375, 425, 475];
const heatScoreRows = [99, 97, 95, 93, 91, 89, 87, 85, 83, 81, 79, 77, 75, 73, 71, 69, 67, 65, 63];
const heatDensity = [
  [0.012, 0.014, 0.014, 0.013, 0.012, 0.01, 0.009, 0.008, 0.008, 0.008, 0.008, 0.008, 0.008, 0.01, 0.012, 0.013, 0.014, 0.016, 0.016, 0.014],
  [0.03, 0.035, 0.035, 0.03, 0.028, 0.025, 0.022, 0.02, 0.02, 0.02, 0.02, 0.02, 0.022, 0.025, 0.028, 0.03, 0.035, 0.04, 0.04, 0.035],
  [0.07, 0.075, 0.075, 0.07, 0.065, 0.06, 0.05, 0.045, 0.045, 0.045, 0.045, 0.045, 0.048, 0.05, 0.06, 0.065, 0.07, 0.075, 0.075, 0.07],
  [0.25, 0.28, 0.29, 0.27, 0.24, 0.2, 0.175, 0.16, 0.15, 0.15, 0.15, 0.145, 0.14, 0.15, 0.18, 0.22, 0.28, 0.33, 0.33, 0.28],
  [0.5, 0.54, 0.55, 0.54, 0.52, 0.5, 0.33, 0.36, 0.43, 0.5, 0.5, 0.45, 0.3, 0.36, 0.43, 0.5, 0.53, 0.55, 0.56, 0.52],
  [0.55, 0.8, 0.9, 0.78, 0.64, 0.53, 0.5, 0.52, 0.6, 0.68, 0.67, 0.58, 0.47, 0.52, 0.58, 0.66, 0.77, 0.81, 0.74, 0.55],
  [0.6, 0.88, 0.93, 0.83, 0.7, 0.58, 0.55, 0.6, 0.7, 0.76, 0.76, 0.69, 0.6, 0.57, 0.62, 0.74, 0.87, 0.94, 0.89, 0.66],
  [0.72, 0.95, 1.0, 0.88, 0.74, 0.62, 0.59, 0.64, 0.73, 0.79, 0.78, 0.71, 0.62, 0.59, 0.64, 0.75, 0.91, 0.96, 0.92, 0.68],
  [0.66, 0.85, 0.88, 0.8, 0.68, 0.55, 0.51, 0.56, 0.67, 0.74, 0.72, 0.67, 0.62, 0.59, 0.62, 0.72, 0.87, 0.95, 0.95, 0.75],
  [0.54, 0.7, 0.72, 0.62, 0.5, 0.34, 0.32, 0.38, 0.46, 0.57, 0.57, 0.55, 0.54, 0.53, 0.53, 0.55, 0.66, 0.74, 0.74, 0.58],
  [0.38, 0.5, 0.5, 0.4, 0.3, 0.22, 0.19, 0.2, 0.22, 0.24, 0.24, 0.22, 0.22, 0.22, 0.25, 0.3, 0.41, 0.51, 0.5, 0.4],
  [0.18, 0.2, 0.18, 0.16, 0.14, 0.13, 0.12, 0.125, 0.13, 0.12, 0.11, 0.11, 0.1, 0.11, 0.13, 0.16, 0.2, 0.24, 0.22, 0.175],
  [0.09, 0.1, 0.11, 0.09, 0.075, 0.065, 0.065, 0.06, 0.065, 0.065, 0.065, 0.065, 0.06, 0.065, 0.075, 0.095, 0.13, 0.14, 0.13, 0.1],
  [0.045, 0.06, 0.06, 0.05, 0.04, 0.033, 0.033, 0.033, 0.033, 0.033, 0.033, 0.033, 0.033, 0.036, 0.04, 0.045, 0.065, 0.075, 0.07, 0.05],
  [0.028, 0.03, 0.03, 0.03, 0.028, 0.024, 0.024, 0.024, 0.024, 0.024, 0.024, 0.024, 0.024, 0.024, 0.028, 0.03, 0.034, 0.038, 0.034, 0.028],
  [0.02, 0.02, 0.022, 0.02, 0.02, 0.02, 0.02, 0.02, 0.018, 0.018, 0.018, 0.018, 0.015, 0.012, 0.008, 0.008, 0.015, 0.018, 0.018, 0.015],
  [0.01, 0.012, 0.012, 0.012, 0.012, 0.012, 0.012, 0.01, 0.01, 0.01, 0.01, 0.01, 0.008, 0.006, 0.003, 0.003, 0.006, 0.008, 0.008, 0.008],
  [0.006, 0.006, 0.006, 0.006, 0.006, 0.006, 0.006, 0.006, 0.006, 0.007, 0.007, 0.006, 0.005, 0.004, 0.003, 0.003, 0.004, 0.005, 0.005, 0.005],
  [0.004, 0.004, 0.004, 0.004, 0.004, 0.004, 0.004, 0.004, 0.004, 0.004, 0.004, 0.004, 0.003, 0.003, 0.002, 0.002, 0.003, 0.003, 0.003, 0.003],
];
const heatSeams = [-211, 154];

// ---------------- panel 3: motif score density ----------------
const scoreGrid = [
  61.1, 62.3, 63.7, 65.6, 67.0, 68.4, 69.8, 70.9, 71.74, 72.85, 73.96, 74.8, 75.5, 76.19, 77.0, 77.58, 78.0, 78.41, 78.69,
  78.97, 79.5, 80.08, 80.5, 81.05, 81.47, 82.03, 82.58, 83.0, 83.4, 83.7, 84.25, 84.67, 85.08, 85.64, 86.06, 86.48, 87.03,
  87.7, 88.14, 88.7, 89.26, 89.81, 90.37, 90.92, 91.48, 92.03, 92.59, 93.15, 93.7, 94.26, 94.82, 95.65, 96.76, 97.87, 99.26, 101.43,
];
const scoreDensity = [
  0, 0.0001, 0.00027, 0.0001, 0.00016, 0.0004, 0.00096, 0.0018, 0.0027, 0.0041, 0.0061, 0.008, 0.0112, 0.0143, 0.0183, 0.0223, 0.0255, 0.0292, 0.0324,
  0.0356, 0.042, 0.0489, 0.0536, 0.0595, 0.0627, 0.0659, 0.0685, 0.0717, 0.0738, 0.0744, 0.0741, 0.0749, 0.0765, 0.0775, 0.0767, 0.0749, 0.0736,
  0.0728, 0.0712, 0.0674, 0.0632, 0.059, 0.0558, 0.0515, 0.0462, 0.0382, 0.0308, 0.0228, 0.0165, 0.0117, 0.008, 0.0042, 0.0019, 0.0008, 0.00027, 0,
];

// ---------------- panel 4: distance density ----------------
const distanceGrid = [
  -634.5, -598.7, -572.4, -550.5, -537.3, -524.1, -511, -500.5, -489.1, -476, -456.6, -432, -405.7, -379.4, -335.5, -291.6, -247.8,
  -204, -160.2, -132.1, -98.8, -72.5, -37.4, -11.1, 6.5, 32.8, 59.1, 85.5, 111.8, 129.3, 190.7, 217, 260.9, 296, 331.1, 366.2,
  401.3, 427.6, 449.5, 467.1, 480.3, 493.4, 504.8, 515.4, 528.5, 541.7, 559.3, 585.6, 611.9, 638.2,
];
const distanceDensity = [
  0, 0.0000159, 0.0000572, 0.000123, 0.000203, 0.000361, 0.000493, 0.000625, 0.000801, 0.000977, 0.001154, 0.001242, 0.001255, 0.001233, 0.00111, 0.000995, 0.000898,
  0.000801, 0.000731, 0.000718, 0.000757, 0.000837, 0.000925, 0.000969, 0.000982, 0.00096, 0.000889, 0.000823, 0.000791, 0.000788, 0.000828, 0.000859, 0.000925, 0.001004, 0.001101, 0.001206,
  0.001286, 0.001264, 0.001154, 0.000977, 0.000801, 0.000625, 0.000449, 0.000361, 0.000211, 0.000141, 0.0000704, 0.0000264, 0.0000088, 0,
];

// ---------------- tick labels ----------------
const distanceTicks = [-400, -200, 0, 200, 400];
const hitScoreTicks = [70, 80, 90, 100];
const heatScoreTicks = [65, 70, 75, 80, 85, 90, 95];
const scoreAxisTicks = [60, 70, 80, 90, 100];
const scoreDensityTicks = [0, 0.02, 0.04, 0.06];
const wideDistanceTicks = [-600, -400, -200, 0, 200, 400, 600];
const distanceDensityTicks = [0, 0.0002, 0.0004, 0.0006, 0.0008, 0.001, 0.0012];

// ---------------- helpers ----------------
type Frame = {
  title: string;
  xTitle: string;
  yTitle: string;
  xTicks: number[];
  yTicks: number[];
  yFmt: (v: number) => string;
};

function framePlugin(f: Frame) {
  return {
    id: "rframe",
    afterDraw(chart: any) {
      const { ctx, chartArea: a } = chart;
      const xs = chart.scales.x;
      const ys = chart.scales.y;
      const L = Math.round(a.left) + 0.5;
      const R = Math.round(a.right) - 0.5;
      const T = Math.round(a.top) + 0.5;
      const B = Math.round(a.bottom) - 0.5;
      ctx.save();
      ctx.setLineDash([]);
      ctx.lineWidth = 1;
      ctx.strokeStyle = "#707070";
      ctx.strokeRect(L, T, R - L, B - T);
      const xp = f.xTicks.map((v) => Math.round(xs.getPixelForValue(v)) + 0.5);
      const yp = f.yTicks.map((v) => Math.round(ys.getPixelForValue(v)) + 0.5);
      ctx.strokeStyle = "#1a1a1a";
      ctx.beginPath();
      ctx.moveTo(xp[0], B);
      ctx.lineTo(xp[xp.length - 1], B);
      xp.forEach((p) => {
        ctx.moveTo(p, B);
        ctx.lineTo(p, B + 7);
      });
      ctx.moveTo(L, yp[0]);
      ctx.lineTo(L, yp[yp.length - 1]);
      yp.forEach((p) => {
        ctx.moveTo(L, p);
        ctx.lineTo(L - 7, p);
      });
      ctx.stroke();

      ctx.fillStyle = "#111";
      ctx.font = `10px ${FONT}`;
      ctx.textAlign = "center";
      ctx.textBaseline = "alphabetic";
      f.xTicks.forEach((v, i) => ctx.fillText(String(v), xp[i], B + 25));
      f.yTicks.forEach((v, i) => {
        ctx.save();
        ctx.translate(L - 14, yp[i]);
        ctx.rotate(-Math.PI / 2);
        ctx.fillText(f.yFmt(v), 0, 0);
        ctx.restore();
      });

      const cx = (a.left + a.right) / 2;
      const cy = (a.top + a.bottom) / 2;
      ctx.fillStyle = "#000";
      ctx.font = `16px ${FONT}`;
      ctx.fillText(f.xTitle, cx, B + 49);
      ctx.save();
      ctx.translate(L - 37.5, cy);
      ctx.rotate(-Math.PI / 2);
      ctx.fillText(f.yTitle, 0, 0);
      ctx.restore();

      ctx.font = `bold 21px ${FONT}`;
      ctx.fillText(f.title, cx, 32);
      ctx.restore();
    },
  };
}

type Guide = { axis: "x" | "y"; value: number; color: string; width: number; dash: number[] };

function drawGuides(chart: any, guides: Guide[]) {
  const { ctx, chartArea: a } = chart;
  const xs = chart.scales.x;
  const ys = chart.scales.y;
  ctx.save();
  ctx.beginPath();
  ctx.rect(a.left, a.top, a.right - a.left, a.bottom - a.top);
  ctx.clip();
  guides.forEach((g) => {
    ctx.strokeStyle = g.color;
    ctx.lineWidth = g.width;
    ctx.setLineDash(g.dash);
    ctx.lineDashOffset = 0;
    ctx.beginPath();
    if (g.axis === "x") {
      const p = xs.getPixelForValue(g.value);
      ctx.moveTo(p, a.bottom);
      ctx.lineTo(p, a.top);
    } else {
      const p = ys.getPixelForValue(g.value);
      ctx.moveTo(a.left, p);
      ctx.lineTo(a.right, p);
    }
    ctx.stroke();
  });
  ctx.restore();
}

function guidePlugin(guides: Guide[]) {
  return {
    id: "guides",
    afterDatasetsDraw(chart: any) {
      drawGuides(chart, guides);
    },
  };
}

function baselinePlugin(xFrom: number, xTo: number) {
  return {
    id: "baseline",
    afterDatasetsDraw(chart: any) {
      const { ctx } = chart;
      const xs = chart.scales.x;
      const ys = chart.scales.y;
      const y = ys.getPixelForValue(0);
      ctx.save();
      ctx.setLineDash([]);
      ctx.strokeStyle = "#000";
      ctx.lineWidth = 1.3;
      ctx.beginPath();
      ctx.moveTo(xs.getPixelForValue(xFrom), y);
      ctx.lineTo(xs.getPixelForValue(xTo), y);
      ctx.stroke();
      ctx.restore();
    },
  };
}

function heatColor(t: number): [number, number, number] {
  const v = Math.max(0, Math.min(1, t));
  if (v < 0.5) {
    const k = 255 * (1 - 2 * v);
    return [k, k, 255];
  }
  return [255 * (2 * v - 1), 0, 255 * (2 - 2 * v)];
}

function catmull(p0: number, p1: number, p2: number, p3: number, t: number) {
  const t2 = t * t;
  const t3 = t2 * t;
  return 0.5 * (2 * p1 + (-p0 + p2) * t + (2 * p0 - 5 * p1 + 4 * p2 - p3) * t2 + (-p0 + 3 * p1 - 3 * p2 + p3) * t3);
}

const heatPlugin = {
  id: "heat",
  beforeDatasetsDraw(chart: any) {
    const { ctx, chartArea: a } = chart;
    const xs = chart.scales.x;
    const ys = chart.scales.y;
    const L = Math.round(a.left);
    const T = Math.round(a.top);
    const w = Math.round(a.right) - L;
    const h = Math.round(a.bottom) - T;
    const nc = heatDistanceCols.length;
    const nr = heatScoreRows.length;
    const dx = heatDistanceCols[1] - heatDistanceCols[0];
    const dy = heatScoreRows[0] - heatScoreRows[1];
    const clc = (k: number) => Math.max(0, Math.min(nc - 1, k));
    const rowInterp = heatDensity.map(() => new Float32Array(w));
    for (let i = 0; i < w; i++) {
      const v = xs.getValueForPixel(L + i + 0.5);
      const g = (v - heatDistanceCols[0]) / dx;
      const ix = Math.floor(g);
      const tx = g - ix;
      for (let r = 0; r < nr; r++) {
        const row = heatDensity[r];
        rowInterp[r][i] = catmull(row[clc(ix - 1)], row[clc(ix)], row[clc(ix + 1)], row[clc(ix + 2)], tx);
      }
    }
    const off = document.createElement("canvas");
    off.width = w;
    off.height = h;
    const octx = off.getContext("2d")!;
    const img = octx.createImageData(w, h);
    const pick = (k: number) => rowInterp[Math.max(0, Math.min(nr - 1, k))];
    for (let j = 0; j < h; j++) {
      const v = ys.getValueForPixel(T + j + 0.5);
      const g = (heatScoreRows[0] - v) / dy;
      const iy = Math.floor(g);
      const ty = g - iy;
      const r0 = pick(iy - 1);
      const r1 = pick(iy);
      const r2 = pick(iy + 1);
      const r3 = pick(iy + 2);
      for (let i = 0; i < w; i++) {
        const c = heatColor(catmull(r0[i], r1[i], r2[i], r3[i], ty));
        const o = (j * w + i) * 4;
        img.data[o] = c[0];
        img.data[o + 1] = c[1];
        img.data[o + 2] = c[2];
        img.data[o + 3] = 255;
      }
    }
    octx.putImageData(img, 0, 0);
    ctx.drawImage(off, L, T, w, h);
  },
};

const legendRows = [
  { label: `enrichment zone = ${enrichmentZone}`, kind: "line", color: "#1f8f1f" },
  { label: `motif score threshold = ${scoreThreshold.toFixed(3)}`, kind: "line", color: "#f08080" },
  { label: "centrality p-val = NS", kind: "dot", color: "#0000ff" },
];

const legendPlugin = {
  id: "zoneLegend",
  afterDraw(chart: any) {
    const { ctx, chartArea: a } = chart;
    const lx0 = a.right - 215;
    ctx.save();
    ctx.font = `12.8px ${FONT}`;
    ctx.textAlign = "left";
    ctx.textBaseline = "middle";
    legendRows.forEach((r, i) => {
      const y = a.top + 16.8 + i * 15.6;
      if (r.kind === "line") {
        ctx.strokeStyle = r.color;
        ctx.lineWidth = 1.4;
        ctx.setLineDash([2, 2]);
        ctx.beginPath();
        ctx.moveTo(lx0, y);
        ctx.lineTo(lx0 + 25, y);
        ctx.stroke();
      } else {
        ctx.fillStyle = r.color;
        ctx.beginPath();
        ctx.arc(lx0 + 11.7, y, 3, 0, Math.PI * 2);
        ctx.fill();
      }
      ctx.fillStyle = "#000";
      ctx.fillText(r.label, lx0 + 35, y);
    });
    ctx.restore();
  },
};

function baseOptions(xmin: number, xmax: number, ymin: number, ymax: number, padLeft: number) {
  return {
    responsive: false,
    animation: false,
    events: [],
    layout: { padding: { left: padLeft, top: 47, right: 48, bottom: 60 } },
    plugins: { legend: { display: false }, tooltip: { enabled: false }, title: { display: false } },
    scales: {
      x: { type: "linear", min: xmin, max: xmax, display: false },
      y: { type: "linear", min: ymin, max: ymax, display: false },
    },
  };
}

// ---------------- chart configs ----------------
function pairUp(xs: number[], ys: number[]) {
  const n = Math.min(xs.length, ys.length);
  const out: { x: number; y: number }[] = [];
  for (let i = 0; i < n; i++) out.push({ x: xs[i], y: ys[i] });
  return out;
}

function scatterConfig() {
  const pts = [
    ...pairUp(tailDistance, tailScore),
    ...pairUp(coreDistance, coreScore),
    ...pairUp(coreDistanceB, coreScoreB),
    ...pairUp(coreDistanceC, coreScoreC),
  ];
  return {
    type: "scatter",
    data: {
      datasets: [
        {
          data: pts,
          pointStyle: "rect",
          pointRadius: 1.4,
          pointBorderWidth: 0,
          borderWidth: 0,
          backgroundColor: "#000",
        },
      ],
    },
    options: baseOptions(-530.4, 534.4, 61.75, 100.75, 60),
    plugins: [
      guidePlugin([
        { axis: "y", value: scoreThreshold, color: "#dd3333", width: 2.6, dash: [11, 7] },
        { axis: "x", value: -enrichmentZone, color: "#167816", width: 2.4, dash: [11, 7] },
        { axis: "x", value: enrichmentZone, color: "#167816", width: 2.4, dash: [11, 7] },
      ]),
      framePlugin({
        title: "Top hit for each peak",
        xTitle: "Distance to peak summit",
        yTitle: "Motif score",
        xTicks: distanceTicks,
        yTicks: hitScoreTicks,
        yFmt: (v) => String(v),
      }),
    ],
  };
}

function heatConfig() {
  return {
    type: "scatter",
    data: { datasets: [] },
    options: baseOptions(-492.6, 494.4, 63.25, 99.35, 59),
    plugins: [
      heatPlugin,
      guidePlugin([
        ...heatSeams.map((v) => ({ axis: "x" as const, value: v, color: "rgba(255,255,255,0.9)", width: 1, dash: [] as number[] })),
        { axis: "y", value: scoreThreshold, color: "#cc3b3b", width: 1.5, dash: [7, 5] },
        { axis: "x", value: -enrichmentZone, color: "#0e5e0e", width: 2, dash: [7, 5] },
        { axis: "x", value: enrichmentZone, color: "#0e5e0e", width: 2, dash: [7, 5] },
      ]),
      framePlugin({
        title: "Density heat map for the top hits",
        xTitle: "Distance to peak summit",
        yTitle: "Motif score",
        xTicks: distanceTicks,
        yTicks: heatScoreTicks,
        yFmt: (v) => String(v),
      }),
    ],
  };
}

function scoreDensityConfig() {
  return {
    type: "line",
    data: {
      datasets: [
        {
          data: pairUp(scoreGrid, scoreDensity),
          borderColor: "#000",
          borderWidth: 1.3,
          backgroundColor: "#F5DEB3",
          fill: "origin",
          pointRadius: 0,
          cubicInterpolationMode: "monotone",
        },
      ],
    },
    options: baseOptions(59.5, 103.0, -0.0031, 0.0806, 60),
    plugins: [
      baselinePlugin(scoreGrid[0], scoreGrid[scoreGrid.length - 1]),
      guidePlugin([{ axis: "x", value: scoreThreshold, color: "#dd3333", width: 2, dash: [7, 5] }]),
      framePlugin({
        title: `Motif score threshold: ${scoreThreshold.toFixed(3)}`,
        xTitle: "Motif score",
        yTitle: "Density",
        xTicks: scoreAxisTicks,
        yTicks: scoreDensityTicks,
        yFmt: (v) => v.toFixed(2),
      }),
    ],
  };
}

function distanceDensityConfig() {
  return {
    type: "line",
    data: {
      datasets: [
        {
          data: pairUp(distanceGrid, distanceDensity),
          borderColor: "#000",
          borderWidth: 1.3,
          backgroundColor: "#F5DEB3",
          fill: "origin",
          pointRadius: 0,
          cubicInterpolationMode: "monotone",
        },
      ],
    },
    options: baseOptions(-685.4, 689.1, -0.0000514, 0.001337, 59),
    plugins: [
      baselinePlugin(distanceGrid[0], distanceGrid[distanceGrid.length - 1]),
      guidePlugin([
        { axis: "x", value: -enrichmentZone, color: "#2a8a2a", width: 2, dash: [8, 4] },
        { axis: "x", value: enrichmentZone, color: "#2a8a2a", width: 2, dash: [8, 4] },
      ]),
      legendPlugin,
      framePlugin({
        title: `Enrichment zone: ${enrichmentZone.toFixed(2)}`,
        xTitle: "Distance to peak summit",
        yTitle: "Density",
        xTicks: wideDistanceTicks,
        yTicks: distanceDensityTicks,
        yFmt: (v) => v.toFixed(4),
      }),
    ],
  };
}

function ChartCanvas({ make }: { make: () => any }) {
  const ref = useRef<HTMLCanvasElement>(null);
  useEffect(() => {
    if (!ref.current) return;
    const chart = new Chart(ref.current, make());
    return () => chart.destroy();
  }, [make]);
  return <canvas ref={ref} width={640} height={640} style={{ display: "block", width: 640, height: 640 }} />;
}

export default function App() {
  return (
    <div
      style={{
        position: "absolute",
        left: 0,
        top: 0,
        width: 1280,
        height: 1280,
        background: "#ffffff",
        display: "grid",
        gridTemplateColumns: "640px 640px",
        gridTemplateRows: "640px 640px",
      }}
    >
      <ChartCanvas make={scatterConfig} />
      <ChartCanvas make={heatConfig} />
      <ChartCanvas make={scoreDensityConfig} />
      <ChartCanvas make={distanceDensityConfig} />
    </div>
  );
}
